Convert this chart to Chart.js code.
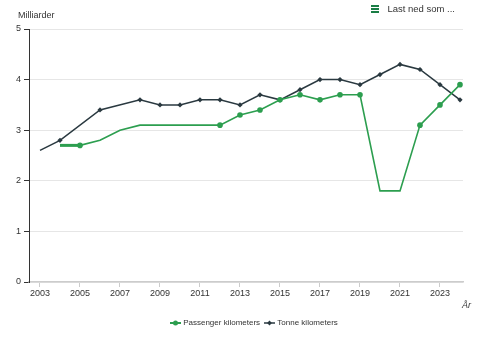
<!DOCTYPE html>
<html>
<head>
<meta charset="utf-8">
<script src="https://cdn.jsdelivr.net/npm/chart.js@4/dist/chart.umd.min.js"></script>
<style>
    body { margin: 0; background: #fff; font-family: "Liberation Sans", Arial, sans-serif; }
    #wrap { position: relative; width: 480px; height: 341px; }
    #menu { position: absolute; top: 3px; right: 25px; font-size: 9.5px; color: #333; display: flex; align-items: center; }
    #menu .bars { width: 8px; margin-right: 8px; }
    #menu .bars i { display: block; height: 2px; background: #1a7d45; margin: 1px 0; }
    #legend { position: absolute; top: 318px; left: 14px; width: 480px; text-align: center; font-size: 8px; color: #333; }
    #legend span { margin: 0 1px; }
    #legend svg { vertical-align: middle; margin-right: 2px; }
</style>
</head>
<body>
<div id="wrap">
    <canvas id="trafficChart" width="480" height="341"></canvas>
    <div id="menu"><div class="bars"><i></i><i></i><i></i></div>Last ned som ...</div>
    <div id="legend">
        <span><svg width="11" height="8"><line x1="0" y1="4" x2="11" y2="4" stroke="#2c9e4f" stroke-width="2"/><circle cx="5.5" cy="4" r="2.5" fill="#2c9e4f"/></svg>Passenger kilometers</span>
        <span><svg width="11" height="8"><line x1="0" y1="4" x2="11" y2="4" stroke="#2a3940" stroke-width="1.5"/><rect x="3.8" y="2.3" width="3.4" height="3.4" fill="#2a3940" transform="rotate(45 5.5 4)"/></svg>Tonne kilometers</span>
    </div>
</div>
<script>
// data (billions)
const years = [2003, 2004, 2005, 2006, 2007, 2008, 2009, 2010, 2011, 2012, 2013,
               2014, 2015, 2016, 2017, 2018, 2019, 2020, 2021, 2022, 2023, 2024];
const passengerKm = [null, 2.7, 2.7, 2.8, 3.0, 3.1, null, null, null, 3.1, 3.3,
                     3.4, 3.6, 3.7, 3.6, 3.7, 3.7, 1.8, 1.8, 3.1, 3.5, 3.9];
const tonneKm = [2.6, 2.8, null, 3.4, null, 3.6, 3.5, 3.5, 3.6, 3.6, 3.5,
                 3.7, 3.6, 3.8, 4.0, 4.0, 3.9, 4.1, 4.3, 4.2, 3.9, 3.6];
const passengerMarked = [2005, 2012, 2013, 2014, 2015, 2016, 2017, 2018, 2019, 2022, 2023, 2024];
const xTicks = [2003, 2005, 2007, 2009, 2011, 2013, 2015, 2017, 2019, 2021, 2023];
const yTicks = [0, 1, 2, 3, 4, 5];

const green = "#2c9e4f";
const dark = "#2a3940";

function toPoints(values) {
    return years.map((y, i) => ({ x: y, y: values[i] }));
}

// axis captions drawn at fixed spots around the plot
const captions = {
    id: "captions",
    afterDraw(chart) {
        const ctx = chart.ctx;
        const area = chart.chartArea;
        ctx.save();
        ctx.fillStyle = "#333";
        ctx.font = "9px 'Liberation Sans', Arial, sans-serif";
        ctx.textBaseline = "middle";
        ctx.textAlign = "left";
        ctx.fillText("Milliarder", 18, 16);
        ctx.font = "italic 9px 'Liberation Sans', Arial, sans-serif";
        ctx.textAlign = "right";
        ctx.fillText("År", area.right + 8, 305);
        ctx.restore();
    }
};

new Chart(document.getElementById("trafficChart"), {
    type: "line",
    data: {
        datasets: [{
            label: "Passenger kilometers",
            data: toPoints(passengerKm),
            borderColor: green,
            backgroundColor: green,
            borderWidth: 1.6,
            pointStyle: "circle",
            pointBorderWidth: 0,
            pointRadius: years.map(y => passengerMarked.includes(y) ? 2.8 : 0),
            spanGaps: true,
            segment: {
                borderWidth: c => c.p0DataIndex === 1 ? 3 : 1.6
            }
        }, {
            label: "Tonne kilometers",
            data: toPoints(tonneKm),
            borderColor: dark,
            backgroundColor: dark,
            borderWidth: 1.5,
            pointStyle: "rectRot",
            pointBorderWidth: 0,
            pointRadius: years.map((y, i) => i === 0 ? 0 : 2.6),
            spanGaps: true
        }]
    },
    options: {
        responsive: false,
        animation: false,
        layout: { padding: { top: 29, right: 17, left: 0, bottom: 0 } },
        plugins: {
            legend: { display: false },
            tooltip: { enabled: false }
        },
        scales: {
            x: {
                type: "linear",
                min: 2002.45,
                max: 2024.15,
                afterBuildTicks: axis => { axis.ticks = xTicks.map(v => ({ value: v })); },
                afterFit: axis => { axis.height = 59; },
                ticks: {
                    color: "#333",
                    font: { family: "'Liberation Sans', Arial, sans-serif", size: 9 },
                    padding: 1,
                    maxRotation: 0,
                    callback: v => String(v)
                },
                grid: { drawOnChartArea: false, tickColor: "#ccc", tickLength: 5 },
                border: { color: "#ccc", width: 1.5 }
            },
            y: {
                min: 0,
                max: 5,
                afterBuildTicks: axis => { axis.ticks = yTicks.map(v => ({ value: v })); },
                afterFit: axis => { axis.width = 29; },
                ticks: {
                    color: "#333",
                    font: { family: "'Liberation Sans', Arial, sans-serif", size: 9 },
                    padding: 3
                },
                grid: { color: "#e6e6e6", tickColor: "#333", tickLength: 5 },
                border: { color: "#333", width: 1 }
            }
        }
    },
    plugins: [captions]
});
</script>
</body>
</html>
